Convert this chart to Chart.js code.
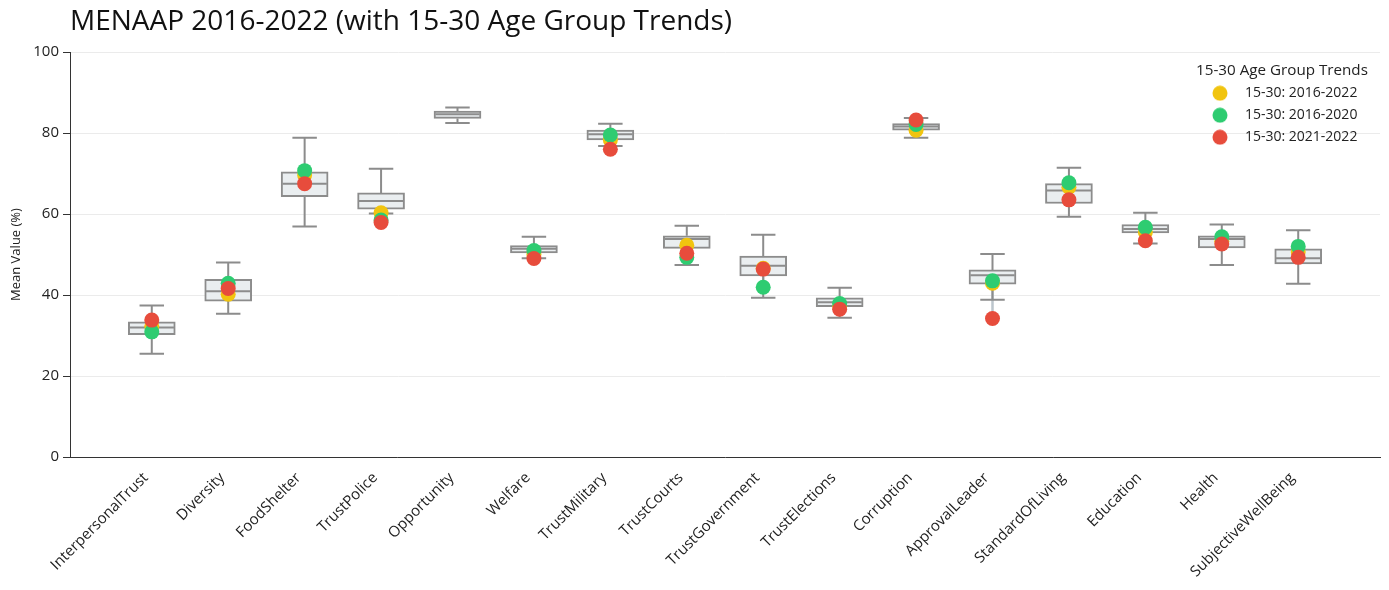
<!DOCTYPE html>
<html>
<head>
<meta charset="utf-8">
<script src="https://cdn.jsdelivr.net/npm/chart.js@4.4.1/dist/chart.umd.min.js"></script>
<style>
  html, body { margin: 0; padding: 0; background: #ffffff; }
  #wrap { width: 1389px; height: 590px; position: relative; }
</style>
</head>
<body>
<div id="wrap"><canvas id="c"></canvas></div>
<script>
const categories = ['InterpersonalTrust','Diversity','FoodShelter','TrustPolice','Opportunity','Welfare','TrustMilitary','TrustCourts','TrustGovernment','TrustElections','Corruption','ApprovalLeader','StandardOfLiving','Education','Health','SubjectiveWellBeing'];

const whiskerLow  = [25.5, 35.4, 56.9, 60.1, 82.5, 49.1, 76.8, 47.4, 39.3, 34.4, 78.8, 38.8, 59.3, 52.7, 47.4, 42.8];
const q1          = [30.2, 38.5, 64.3, 61.2, 83.6, 50.4, 78.3, 51.5, 44.7, 37.1, 80.7, 42.7, 62.6, 55.3, 51.6, 47.7];
const medians     = [32.0, 40.9, 67.5, 63.2, 84.6, 51.4, 79.7, 53.8, 47.2, 38.2, 81.6, 44.9, 65.8, 56.3, 53.8, 49.1];
const q3          = [33.4, 43.9, 70.4, 65.2, 85.4, 52.2, 80.7, 54.6, 49.6, 39.3, 82.3, 46.2, 67.5, 57.4, 54.6, 51.4];
const whiskerHigh = [37.4, 48.0, 78.8, 71.2, 86.3, 54.4, 82.3, 57.1, 54.9, 41.8, 83.7, 50.1, 71.4, 60.3, 57.4, 56.0];

const youth2016_2022 = [32.3, 40.2, 69.6, 60.3, null, 50.0, 78.3, 52.3, 46.6, 37.2, 80.7, 42.9, 66.6, 55.5, 53.3, 50.6];
const youth2016_2020 = [30.9, 42.9, 70.7, 58.5, null, 51.0, 79.5, 49.3, 41.9, 37.9, 82.1, 43.5, 67.7, 56.7, 54.4, 52.0];
const youth2021_2022 = [33.8, 41.6, 67.5, 57.9, null, 49.0, 76.0, 50.3, 46.4, 36.5, 83.2, 34.2, 63.5, 53.4, 52.6, 49.3];

const yTicks = [0, 20, 40, 60, 80, 100];

const FONT = '"Open Sans", "Noto Sans", sans-serif';
const BOX_COLOR = '#8c8c8c';
const BOX_FILL = '#eaeef0';
const CAP_HALF = 0.16;
const MED_HALF = 0.29;

// derived plotting series (built from the arrays above)
const boxData = categories.map((c, i) => ({ x: i, y: [q1[i], q3[i]] }));
const whiskerData = [], capData = [], medianData = [], connectorData = [];
categories.forEach((c, i) => {
  whiskerData.push({x: i, y: q3[i]}, {x: i, y: whiskerHigh[i]}, {x: i, y: null},
                   {x: i, y: whiskerLow[i]}, {x: i, y: q1[i]}, {x: i, y: null});
  capData.push({x: i - CAP_HALF, y: whiskerHigh[i]}, {x: i + CAP_HALF, y: whiskerHigh[i]}, {x: i, y: null},
               {x: i - CAP_HALF, y: whiskerLow[i]}, {x: i + CAP_HALF, y: whiskerLow[i]}, {x: i, y: null});
  medianData.push({x: i - MED_HALF, y: medians[i]}, {x: i + MED_HALF, y: medians[i]}, {x: i, y: null});
  const vals = [youth2016_2022[i], youth2016_2020[i], youth2021_2022[i]].filter(v => v !== null);
  if (vals.length) {
    connectorData.push({x: i, y: Math.min(...vals)}, {x: i, y: Math.max(...vals)}, {x: i, y: null});
  }
});
const toPts = arr => arr.map((v, i) => ({x: i, y: v}));

function dot(color) {
  const c = document.createElement('canvas');
  c.width = 16; c.height = 16;
  const g = c.getContext('2d');
  g.fillStyle = color;
  g.beginPath(); g.arc(8, 8, 7.5, 0, Math.PI * 2); g.fill();
  return c;
}

const lineBase = { type: 'line', pointRadius: 0, pointHoverRadius: 0, fill: false, spanGaps: false, tension: 0 };

const legendMover = {
  id: 'legendMover',
  afterLayout(chart) {
    const lg = chart.legend, ca = chart.chartArea;
    if (!lg || !ca) return;
    lg.left = ca.right - 186;
    lg.width = 176;
    lg.right = lg.left + lg.width;
    lg.top = ca.top + 11;
    lg.bottom = lg.top + 120;
    lg.height = 120;
  }
};

new Chart(document.getElementById('c'), {
  type: 'bar',
  data: {
    datasets: [
      { type: 'line', label: '15-30: 2016-2022', data: toPts(youth2016_2022), isTrend: true, showLine: false,
        pointRadius: 7.5, pointHoverRadius: 7.5, pointBackgroundColor: '#f1c40f', pointBorderWidth: 0,
        backgroundColor: '#f1c40f', borderColor: '#f1c40f', order: 3 },
      { type: 'line', label: '15-30: 2016-2020', data: toPts(youth2016_2020), isTrend: true, showLine: false,
        pointRadius: 7.5, pointHoverRadius: 7.5, pointBackgroundColor: '#2ecc71', pointBorderWidth: 0,
        backgroundColor: '#2ecc71', borderColor: '#2ecc71', order: 2 },
      { type: 'line', label: '15-30: 2021-2022', data: toPts(youth2021_2022), isTrend: true, showLine: false,
        pointRadius: 7.5, pointHoverRadius: 7.5, pointBackgroundColor: '#e74c3c', pointBorderWidth: 0,
        backgroundColor: '#e74c3c', borderColor: '#e74c3c', order: 1 },
      Object.assign({}, lineBase, { label: 'median', data: medianData, borderColor: BOX_COLOR, borderWidth: 2, order: 4 }),
      Object.assign({}, lineBase, { label: 'caps', data: capData, borderColor: BOX_COLOR, borderWidth: 2, order: 5 }),
      Object.assign({}, lineBase, { label: 'whiskers', data: whiskerData, borderColor: BOX_COLOR, borderWidth: 2, order: 6 }),
      { type: 'bar', label: 'box', data: boxData, backgroundColor: BOX_FILL, borderColor: BOX_COLOR,
        borderWidth: 2, borderSkipped: false, barThickness: 47, order: 7 },
      Object.assign({}, lineBase, { label: 'connector', data: connectorData, borderColor: '#bcc5cc', borderWidth: 2.5, order: 8 })
    ]
  },
  options: {
    responsive: true,
    maintainAspectRatio: false,
    animation: false,
    events: [],
    layout: { padding: { left: 0, right: 9, top: 0, bottom: 0 } },
    plugins: {
      tooltip: { enabled: false },
      title: {
        display: true,
        text: 'MENAAP 2016-2022 (with 15-30 Age Group Trends)',
        align: 'start',
        fullSize: false,
        color: '#111',
        font: { family: FONT, size: 28, weight: 'normal', lineHeight: 1.2 },
        padding: { top: 5, bottom: 13.4 }
      },
      legend: {
        display: true,
        position: 'chartArea',
        fullSize: false,
        align: 'start',
        title: {
          display: true,
          text: '15-30 Age Group Trends',
          color: '#222',
          font: { family: FONT, size: 15.2, lineHeight: 1 },
          padding: 0
        },
        labels: {
          usePointStyle: true,
          pointStyleWidth: 36,
          boxHeight: 11,
          padding: 8,
          color: '#222',
          font: { family: FONT, size: 14 },
          filter: (item, data) => !!data.datasets[item.datasetIndex].isTrend,
          sort: (a, b) => a.datasetIndex - b.datasetIndex,
          generateLabels: (chart) => {
            const items = Chart.defaults.plugins.legend.labels.generateLabels(chart);
            items.forEach(it => {
              const ds = chart.data.datasets[it.datasetIndex];
              if (ds.isTrend) it.pointStyle = dot(ds.pointBackgroundColor);
            });
            return items;
          }
        }
      }
    },
    scales: {
      x: {
        type: 'linear',
        min: -1.07,
        max: 16.07,
        offset: false,
        afterBuildTicks: (axis) => { axis.ticks = categories.map((c, i) => ({ value: i })); },
        afterFit: (axis) => { axis.height = 133; },
        grid: { display: false, drawTicks: false },
        border: { display: true, color: '#333', width: 1 },
        ticks: {
          autoSkip: false,
          minRotation: 45,
          maxRotation: 45,
          padding: 12,
          labelOffset: -6,
          color: '#222',
          font: { family: FONT, size: 15 },
          callback: (v) => categories[v]
        }
      },
      y: {
        type: 'linear',
        min: 0,
        max: 100,
        afterBuildTicks: (axis) => { axis.ticks = yTicks.map(v => ({ value: v })); },
        afterFit: (axis) => { axis.width = 70; },
        grid: { color: '#ebebeb', lineWidth: 1, tickColor: '#333', tickLength: 7, drawTicks: true },
        border: { display: true, color: '#333', width: 1 },
        ticks: { color: '#222', padding: 4, font: { family: FONT, size: 15 } },
        title: {
          display: true,
          text: 'Mean Value (%)',
          color: '#222',
          font: { family: FONT, size: 13 },
          padding: { top: 8, bottom: 0 }
        }
      }
    }
  },
  plugins: [legendMover]
});
</script>
</body>
</html>
